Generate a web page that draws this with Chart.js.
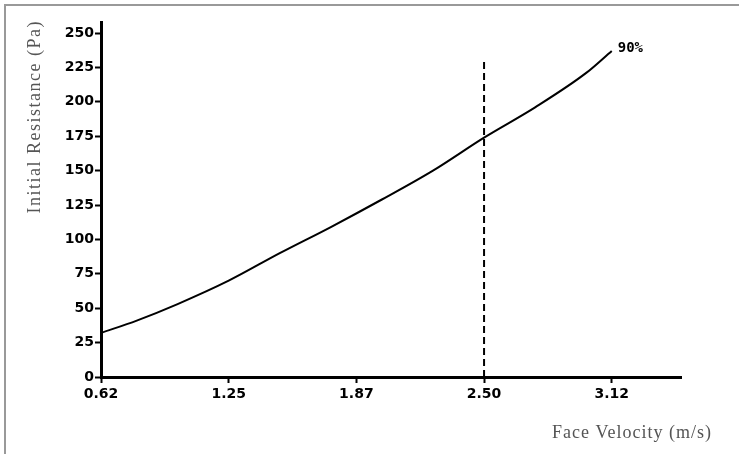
<!DOCTYPE html>
<html>
<head>
<meta charset="utf-8">
<script src="https://cdn.jsdelivr.net/npm/chart.js@4.4.1/dist/chart.umd.min.js"></script>
<style>
  html, body { margin: 0; padding: 0; background: #fff; overflow: hidden; }
  #wrap { position: relative; width: 739px; height: 454px; }
  #frame { position: absolute; left: 4px; top: 4px; width: 800px; height: 500px;
           border: 2px solid #999; pointer-events: none; }
</style>
</head>
<body>
<div id="wrap">
  <canvas id="resistance-chart" width="739" height="454"></canvas>
  <div id="frame"></div>
</div>
<script>
// values
const velocities = [0.625, 0.8, 1.0, 1.25, 1.5, 1.75, 2.0, 2.25, 2.5, 2.75, 3.0, 3.125];
const resistances = [32, 41, 53, 70, 90, 109, 129, 150, 174, 196, 221, 237];

const xTickValues = [0.625, 1.25, 1.875, 2.5, 3.125];
const xTickLabels = ["0.62", "1.25", "1.87", "2.50", "3.12"];
const yTickValues = [0, 25, 50, 75, 100, 125, 150, 175, 200, 225, 250];

const refVelocity = 2.5;
const refLineTop = 229;
const curveLabel = "90%";

const xTitle = "Face Velocity (m/s)";
const yTitle = "Initial Resistance (Pa)";

const tickFont = { family: "DejaVu Sans", size: 14, weight: "bold" };

// draws the curve label and the two axis titles
const extrasPlugin = {
    id: "extras",
    afterDraw(chart) {
        const ctx = chart.ctx;
        const meta = chart.getDatasetMeta(0);
        const last = meta.data[meta.data.length - 1];

        ctx.save();
        ctx.fillStyle = "#000";
        ctx.font = "bold 14px 'DejaVu Sans Mono'";
        ctx.textAlign = "left";
        ctx.textBaseline = "middle";
        ctx.fillText(curveLabel, last.x + 6, last.y - 3);

        ctx.fillStyle = "#555";
        ctx.font = "18px 'Liberation Serif'";
        ctx.letterSpacing = "1px";
        ctx.textAlign = "right";
        ctx.fillText(xTitle, 712, 433);

        ctx.letterSpacing = "1.5px";
        ctx.translate(35, 20);
        ctx.rotate(-Math.PI / 2);
        ctx.textAlign = "right";
        ctx.fillText(yTitle, 0, 0);
        ctx.restore();
    }
};

const canvas = document.getElementById("resistance-chart");

new Chart(canvas, {
    type: "line",
    data: {
        datasets: [{
            data: velocities.map((v, i) => ({ x: v, y: resistances[i] })),
            borderColor: "#000",
            borderWidth: 2,
            pointRadius: 0,
            cubicInterpolationMode: "monotone",
            fill: false
        }, {
            data: [{ x: refVelocity, y: 0 }, { x: refVelocity, y: refLineTop }],
            borderColor: "#000",
            borderWidth: 2,
            borderDash: [7, 4],
            pointRadius: 0,
            fill: false
        }]
    },
    options: {
        responsive: false,
        animation: false,
        layout: { padding: { top: 22, right: 58, left: 0, bottom: 0 } },
        plugins: {
            legend: { display: false },
            tooltip: { enabled: false }
        },
        scales: {
            x: {
                type: "linear",
                min: 0.625,
                max: 3.464,
                afterFit: (scale) => { scale.height = 77; },
                afterBuildTicks: (scale) => {
                    scale.ticks = xTickValues.map(v => ({ value: v }));
                },
                border: { display: true, color: "#000", width: 3 },
                grid: {
                    drawOnChartArea: false,
                    drawTicks: true,
                    tickLength: 6,
                    tickColor: "#000",
                    tickWidth: 2
                },
                ticks: {
                    color: "#000",
                    font: tickFont,
                    padding: 3,
                    maxRotation: 0,
                    autoSkip: false,
                    callback: (value, index) => xTickLabels[index]
                }
            },
            y: {
                min: 0,
                max: 258,
                afterFit: (scale) => { scale.width = 101; },
                afterBuildTicks: (scale) => {
                    scale.ticks = yTickValues.map(v => ({ value: v }));
                },
                border: { display: true, color: "#000", width: 3 },
                grid: {
                    drawOnChartArea: false,
                    drawTicks: true,
                    tickLength: 6,
                    tickColor: "#000",
                    tickWidth: 2
                },
                ticks: {
                    color: "#000",
                    font: tickFont,
                    padding: 1,
                    autoSkip: false
                }
            }
        }
    },
    plugins: [extrasPlugin]
});
</script>
</body>
</html>
